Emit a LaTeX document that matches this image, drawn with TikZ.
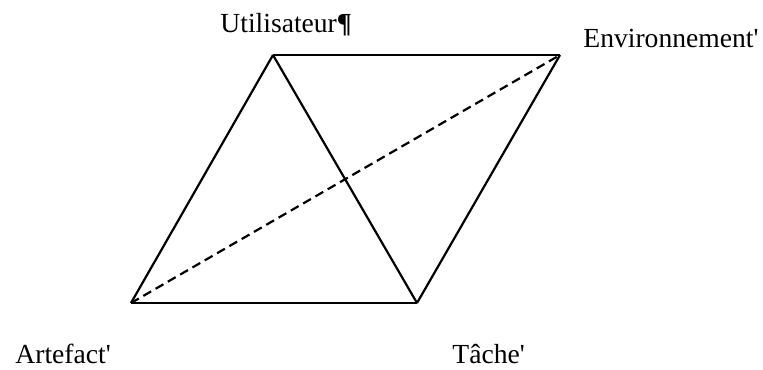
\documentclass[tikz,border=0pt]{standalone}
\usepackage{fontspec}
\setmainfont{Liberation Serif}
\usepackage{tikz}
\usetikzlibrary{positioning}

\begin{document}
\begin{tikzpicture}[
  x=0.5pt, y=-0.5pt,
  font=\fontsize{13.8pt}{16pt}\selectfont,
  vtx/.style={inner sep=0pt, minimum size=0pt},
  lbl/.style={inner sep=0pt, anchor=base west},
  edge/.style={line width=1.1pt, line join=miter},
  hidden/.style={edge, dashed, dash pattern=on 4.5pt off 2.6pt},
]
\useasboundingbox (0,0) rectangle (763,369);

% Corners of the rhombus
\node[vtx] (util) at (273,55)  {};
\node[vtx] (env)  at (560,55)  {};
\node[vtx] (art)  at (131,303) {};
\node[vtx] (tache) at (417,303) {};

% Labels
\node[lbl] (lutil) at (220,33)  {Utilisateur\textbf{¶}};
\node[lbl] (lenv)  at (583,48)  {Environnement\textquotesingle};
\node[lbl] (lart)  at (15,363)  {Artefact\textquotesingle};
\node[lbl] (ltache) at (452,363) {Tâche\textquotesingle};

% Sides
\draw[edge] (util.center) -- (env.center);
\draw[edge] (env.center) -- (tache.center);
\draw[edge] (tache.center) -- (art.center);
\draw[edge] (art.center) -- (util.center);
\draw[edge] (util.center) -- (tache.center);

% Diagonal
\draw[hidden] (art.center) -- (env.center);

\end{tikzpicture}
\end{document}
